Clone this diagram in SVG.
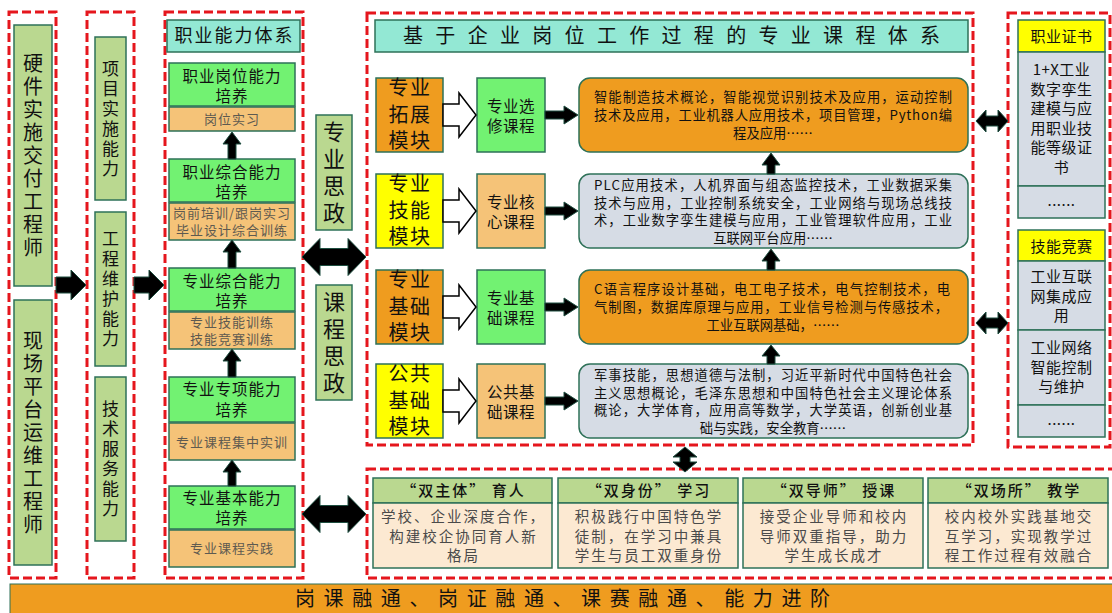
<svg xmlns="http://www.w3.org/2000/svg" width="1112" height="613" viewBox="0 0 1112 613">
<style>
text{font-family:"Noto Sans CJK SC","Noto Sans",sans-serif;fill:#111}
.dash{fill:none;stroke:#E5161D;stroke-width:3;stroke-dasharray:9 4}
.b{stroke:#2E7158;stroke-width:1.5}
.gb{fill:#BAD890}
.bg{fill:#72F272}
.lo{fill:#F5C378}
.or{fill:#EF9C1F}
.ye{fill:#FFFF00}
.gr{fill:#D6DCE5}
.tl{fill:#93E8D4}
.cr{fill:#FCE9D2}
.arr{fill:#000;stroke:#1E4E40;stroke-width:1}
.hol{fill:#fff;stroke:#000;stroke-width:1.5}
.vt{writing-mode:vertical-rl;text-anchor:middle}
.v20{font-size:20px;letter-spacing:3px}
.v17{font-size:17px;letter-spacing:3px}
.v22{font-size:22px;letter-spacing:5px}
.g16{font-size:15.5px;text-anchor:middle;letter-spacing:1px}
.o13{font-size:13px;text-anchor:middle;letter-spacing:1px;fill:#5E5A50}
.mod{font-size:20px;text-anchor:middle;letter-spacing:1.5px}
.ct{font-size:15.5px;text-anchor:middle;letter-spacing:0.5px}
.cs{font-size:13.3px}
.cm{text-anchor:middle}
.r16{font-size:15px;text-anchor:middle;letter-spacing:0.5px}
.hd{font-size:15px;text-anchor:middle;letter-spacing:2px;font-weight:500}
.bd{font-size:14.5px;text-anchor:middle;letter-spacing:2px;fill:#4A4A4A}
</style>

<!-- dashed containers -->
<rect class="dash" x="9" y="12" width="47" height="566"/>
<rect class="dash" x="87" y="12" width="47" height="566"/>
<rect class="dash" x="165" y="12" width="138" height="566"/>
<rect class="dash" x="367" y="13" width="606" height="432"/>
<rect class="dash" x="1008" y="13" width="102" height="434"/>
<rect class="dash" x="367" y="469" width="750" height="109"/>

<!-- left column: roles -->
<g id="role1">
<rect class="gb b" x="14" y="25" width="38" height="261"/>
<text class="vt v20" x="33" y="157">硬件实施交付工程师</text>
</g>
<g id="role2">
<rect class="gb b" x="14" y="300" width="38" height="265"/>
<text class="vt v20" x="33" y="434">现场平台运维工程师</text>
</g>

<!-- second column: abilities -->
<g id="ab1">
<rect class="gb b" x="95" y="37" width="31" height="163"/>
<text class="vt v17" x="110.5" y="120">项目实施能力</text>
</g>
<g id="ab2">
<rect class="gb b" x="95" y="212" width="31" height="154"/>
<text class="vt v17" x="110.5" y="290.5">工程维护能力</text>
</g>
<g id="ab3">
<rect class="gb b" x="95" y="377" width="31" height="164"/>
<text class="vt v17" x="110.5" y="460.5">技术服务能力</text>
</g>

<!-- third column: 职业能力体系 -->
<g id="zy-title">
<rect class="tl b" x="167" y="20" width="133" height="32"/>
<text x="234.5" y="42" style="font-size:18px;text-anchor:middle;letter-spacing:2px">职业能力体系</text>
</g>
<g id="lv5">
<rect class="bg b" x="169" y="63" width="126" height="43"/>
<text class="g16"><tspan x="232" y="82">职业岗位能力</tspan><tspan x="232" y="102">培养</tspan></text>
<rect class="lo b" x="169" y="107" width="126" height="24"/>
<text class="o13" x="232" y="124">岗位实习</text>
</g>
<g id="lv4">
<rect class="bg b" x="169" y="159" width="126" height="43"/>
<text class="g16"><tspan x="232" y="178">职业综合能力</tspan><tspan x="232" y="198">培养</tspan></text>
<rect class="lo b" x="169" y="203" width="126" height="37"/>
<text class="o13"><tspan x="232" y="218">岗前培训/跟岗实习</tspan><tspan x="232" y="235">毕业设计综合训练</tspan></text>
</g>
<g id="lv3">
<rect class="bg b" x="169" y="268" width="126" height="43"/>
<text class="g16"><tspan x="232" y="287">专业综合能力</tspan><tspan x="232" y="307">培养</tspan></text>
<rect class="lo b" x="169" y="312" width="126" height="37"/>
<text class="o13"><tspan x="232" y="327">专业技能训练</tspan><tspan x="232" y="344">技能竞赛训练</tspan></text>
</g>
<g id="lv2">
<rect class="bg b" x="169" y="377" width="126" height="45"/>
<text class="g16"><tspan x="232" y="395">专业专项能力</tspan><tspan x="232" y="416">培养</tspan></text>
<rect class="lo b" x="169" y="423" width="126" height="37"/>
<text class="o13" x="232" y="446.5">专业课程集中实训</text>
</g>
<g id="lv1">
<rect class="bg b" x="169" y="486" width="126" height="43"/>
<text class="g16"><tspan x="232" y="504">专业基本能力</tspan><tspan x="232" y="524">培养</tspan></text>
<rect class="lo b" x="169" y="530" width="126" height="37"/>
<text class="o13" x="232" y="552.5">专业课程实践</text>
</g>

<!-- 思政 -->
<g id="sz1">
<rect class="gb b" x="316" y="115" width="36" height="115"/>
<text class="vt v22" x="334" y="175">专业思政</text>
</g>
<g id="sz2">
<rect class="gb b" x="316" y="285" width="36" height="115"/>
<text class="vt v22" x="334" y="345">课程思政</text>
</g>

<!-- course system -->
<g id="cs-title">
<rect class="tl b" x="375" y="20" width="593" height="32"/>
<text x="403" y="43" textLength="537" lengthAdjust="spacing" style="font-size:20px">基于企业岗位工作过程的专业课程体系</text>
</g>

<g id="row1">
<rect class="or b" x="376" y="78" width="67" height="74"/>
<text class="mod"><tspan x="410" y="95">专业</tspan><tspan x="410" y="121.5">拓展</tspan><tspan x="410" y="148">模块</tspan></text>
<rect class="bg b" x="477" y="78" width="68" height="74"/>
<text class="ct"><tspan x="511" y="112">专业选</tspan><tspan x="511" y="132">修课程</tspan></text>
<rect class="or b" x="579" y="78" width="389" height="74" rx="11"/>
<text class="cs"><tspan x="594" y="102" textLength="358" lengthAdjust="spacing">智能制造技术概论，智能视觉识别技术及应用，运动控制</tspan><tspan x="594" y="120" textLength="358" lengthAdjust="spacing">技术及应用，工业机器人应用技术，项目管理，Python编</tspan><tspan class="cm" x="773" y="138">程及应用……</tspan></text>
</g>

<g id="row2">
<rect class="ye b" x="376" y="174" width="67" height="74"/>
<text class="mod"><tspan x="410" y="191">专业</tspan><tspan x="410" y="217.5">技能</tspan><tspan x="410" y="244">模块</tspan></text>
<rect class="lo b" x="477" y="174" width="68" height="74"/>
<text class="ct"><tspan x="511" y="208">专业核</tspan><tspan x="511" y="228">心课程</tspan></text>
<rect class="gr b" x="579" y="174" width="389" height="74" rx="11"/>
<text class="cs"><tspan x="594" y="190" textLength="358" lengthAdjust="spacing">PLC应用技术，人机界面与组态监控技术，工业数据采集</tspan><tspan x="594" y="207.6" textLength="358" lengthAdjust="spacing">技术与应用，工业控制系统安全，工业网络与现场总线技</tspan><tspan x="594" y="225.2" textLength="358" lengthAdjust="spacing">术，工业数字孪生建模与应用，工业管理软件应用，工业</tspan><tspan class="cm" x="773" y="242.8">互联网平台应用……</tspan></text>
</g>

<g id="row3">
<rect class="or b" x="376" y="270" width="67" height="74"/>
<text class="mod"><tspan x="410" y="287">专业</tspan><tspan x="410" y="313.5">基础</tspan><tspan x="410" y="340">模块</tspan></text>
<rect class="bg b" x="477" y="270" width="68" height="74"/>
<text class="ct"><tspan x="511" y="304">专业基</tspan><tspan x="511" y="324">础课程</tspan></text>
<rect class="or b" x="579" y="270" width="389" height="74" rx="11"/>
<text class="cs"><tspan x="594" y="294" textLength="356" lengthAdjust="spacing">C语言程序设计基础，电工电子技术，电气控制技术，电</tspan><tspan x="594" y="312" textLength="354" lengthAdjust="spacing">气制图，数据库原理与应用，工业信号检测与传感技术，</tspan><tspan class="cm" x="773" y="330">工业互联网基础，……</tspan></text>
</g>

<g id="row4">
<rect class="ye b" x="376" y="364" width="67" height="74"/>
<text class="mod"><tspan x="410" y="381">公共</tspan><tspan x="410" y="407.5">基础</tspan><tspan x="410" y="434">模块</tspan></text>
<rect class="lo b" x="477" y="364" width="68" height="74"/>
<text class="ct"><tspan x="511" y="398">公共基</tspan><tspan x="511" y="418">础课程</tspan></text>
<rect class="gr b" x="579" y="364" width="389" height="74" rx="11"/>
<text class="cs"><tspan x="594" y="380" textLength="358" lengthAdjust="spacing">军事技能，思想道德与法制，习近平新时代中国特色社会</tspan><tspan x="594" y="397.6" textLength="358" lengthAdjust="spacing">主义思想概论，毛泽东思想和中国特色社会主义理论体系</tspan><tspan x="594" y="415.2" textLength="358" lengthAdjust="spacing">概论，大学体育，应用高等数学，大学英语，创新创业基</tspan><tspan class="cm" x="773" y="432.8">础与实践，安全教育……</tspan></text>
</g>

<!-- right column -->
<g id="cert">
<rect class="ye b" x="1018" y="20" width="87" height="32"/>
<text class="r16" x="1061.5" y="42">职业证书</text>
<rect class="gr b" x="1018" y="52" width="87" height="134"/>
<text class="r16"><tspan x="1061.5" y="75">1+X工业</tspan><tspan x="1061.5" dy="19.5">数字孪生</tspan><tspan x="1061.5" dy="19.5">建模与应</tspan><tspan x="1061.5" dy="19.5">用职业技</tspan><tspan x="1061.5" dy="19.5">能等级证</tspan><tspan x="1061.5" dy="19.5">书</tspan></text>
<rect class="gr b" x="1018" y="186" width="87" height="32"/>
<text class="r16" x="1061.5" y="206">......</text>
</g>
<g id="comp">
<rect class="ye b" x="1018" y="230" width="87" height="31"/>
<text class="r16" x="1061.5" y="252">技能竞赛</text>
<rect class="gr b" x="1018" y="261" width="87" height="69"/>
<text class="r16"><tspan x="1061.5" y="282">工业互联</tspan><tspan x="1061.5" dy="19.5">网集成应</tspan><tspan x="1061.5" dy="19.5">用</tspan></text>
<rect class="gr b" x="1018" y="330" width="87" height="75"/>
<text class="r16"><tspan x="1061.5" y="353">工业网络</tspan><tspan x="1061.5" dy="19.5">智能控制</tspan><tspan x="1061.5" dy="19.5">与维护</tspan></text>
<rect class="gr b" x="1018" y="405" width="87" height="32"/>
<text class="r16" x="1061.5" y="425">......</text>
</g>

<!-- bottom four boxes -->
<g id="d1">
<rect class="gb b" x="373" y="478" width="179" height="25"/>
<text class="hd" x="463.5" y="496">“双主体” 育人</text>
<rect class="cr b" x="373" y="503" width="179" height="65"/>
<text class="bd"><tspan x="463.5" y="522">学校、企业深度合作，</tspan><tspan x="463.5" y="541.5">构建校企协同育人新</tspan><tspan x="463.5" y="561">格局</tspan></text>
</g>
<g id="d2">
<rect class="gb b" x="558" y="478" width="180" height="25"/>
<text class="hd" x="649" y="496">“双身份” 学习</text>
<rect class="cr b" x="558" y="503" width="180" height="65"/>
<text class="bd"><tspan x="649" y="522">积极践行中国特色学</tspan><tspan x="649" y="541.5">徒制，在学习中兼具</tspan><tspan x="649" y="561">学生与员工双重身份</tspan></text>
</g>
<g id="d3">
<rect class="gb b" x="743" y="478" width="180" height="25"/>
<text class="hd" x="834" y="496">“双导师” 授课</text>
<rect class="cr b" x="743" y="503" width="180" height="65"/>
<text class="bd"><tspan x="834" y="522">接受企业导师和校内</tspan><tspan x="834" y="541.5">导师双重指导，助力</tspan><tspan x="834" y="561">学生成长成才</tspan></text>
</g>
<g id="d4">
<rect class="gb b" x="928" y="478" width="180" height="25"/>
<text class="hd" x="1019" y="496">“双场所” 教学</text>
<rect class="cr b" x="928" y="503" width="180" height="65"/>
<text class="bd"><tspan x="1019" y="522">校内校外实践基地交</tspan><tspan x="1019" y="541.5">互学习，实现教学过</tspan><tspan x="1019" y="561">程工作过程有效融合</tspan></text>
</g>

<!-- bottom bar -->
<g id="bar">
<rect x="10" y="584" width="1110" height="32" fill="#EF9C1F" stroke="#2E7158" stroke-width="1"/>
<text x="295" y="606" textLength="535" lengthAdjust="spacing" style="font-size:20px">岗课融通、岗证融通、课赛融通、能力进阶</text>
</g>

<!-- connectors -->
<g id="connectors">
<path class="arr" d="M56,277 H71 V270 L86,285 L71,300 V293 H56 Z"/>
<path class="arr" d="M134,277 H149 V270 L164,285 L149,300 V293 H134 Z"/>
<path class="arr" d="M228,159 V144 H223 L232,132 L241,144 H236 V159 Z"/>
<path class="arr" d="M228,268 V252 H223 L232,240 L241,252 H236 V268 Z"/>
<path class="arr" d="M228,377 V361 H223 L232,349 L241,361 H236 V377 Z"/>
<path class="arr" d="M228,486 V472 H223 L232,460 L241,472 H236 V486 Z"/>
<path class="arr" d="M302,257 L320,238.5 V248.5 H348 V238.5 L366,257 L348,275.5 V265.5 H320 V275.5 Z"/>
<path class="arr" d="M302,514 L320,495.5 V505.5 H348 V495.5 L366,514 L348,532.5 V522.5 H320 V532.5 Z"/>
<path class="hol" d="M443,104 H459 V93 L476,115 L459,137 V126 H443 Z"/>
<path class="hol" d="M443,200 H459 V189 L476,211 L459,233 V222 H443 Z"/>
<path class="hol" d="M443,296 H459 V285 L476,307 L459,329 V318 H443 Z"/>
<path class="hol" d="M443,390 H459 V379 L476,401 L459,423 V412 H443 Z"/>
<path class="arr" d="M545,111 H564 V106 L578,115 L564,124 V119 H545 Z"/>
<path class="arr" d="M545,207 H564 V202 L578,211 L564,220 V215 H545 Z"/>
<path class="arr" d="M545,303 H564 V298 L578,307 L564,316 V311 H545 Z"/>
<path class="arr" d="M545,397 H564 V392 L578,401 L564,410 V405 H545 Z"/>
<path class="arr" d="M767,174 V165 H762 L771,153 L780,165 H775 V174 Z"/>
<path class="arr" d="M767,270 V261 H762 L771,249 L780,261 H775 V270 Z"/>
<path class="arr" d="M767,364 V356 H762 L771,345 L780,356 H775 V364 Z"/>
<path class="arr" d="M976,121 L986,110 V116 H998 V110 L1008,121 L998,132 V126 H986 V132 Z"/>
<path class="arr" d="M976,323 L986,312 V318 H998 V312 L1008,323 L998,334 V328 H986 V334 Z"/>
<path class="arr" d="M685,447 L697,457 H690 V462 H697 L685,472 L673,462 H680 V457 H673 Z"/>
</g>
</svg>
